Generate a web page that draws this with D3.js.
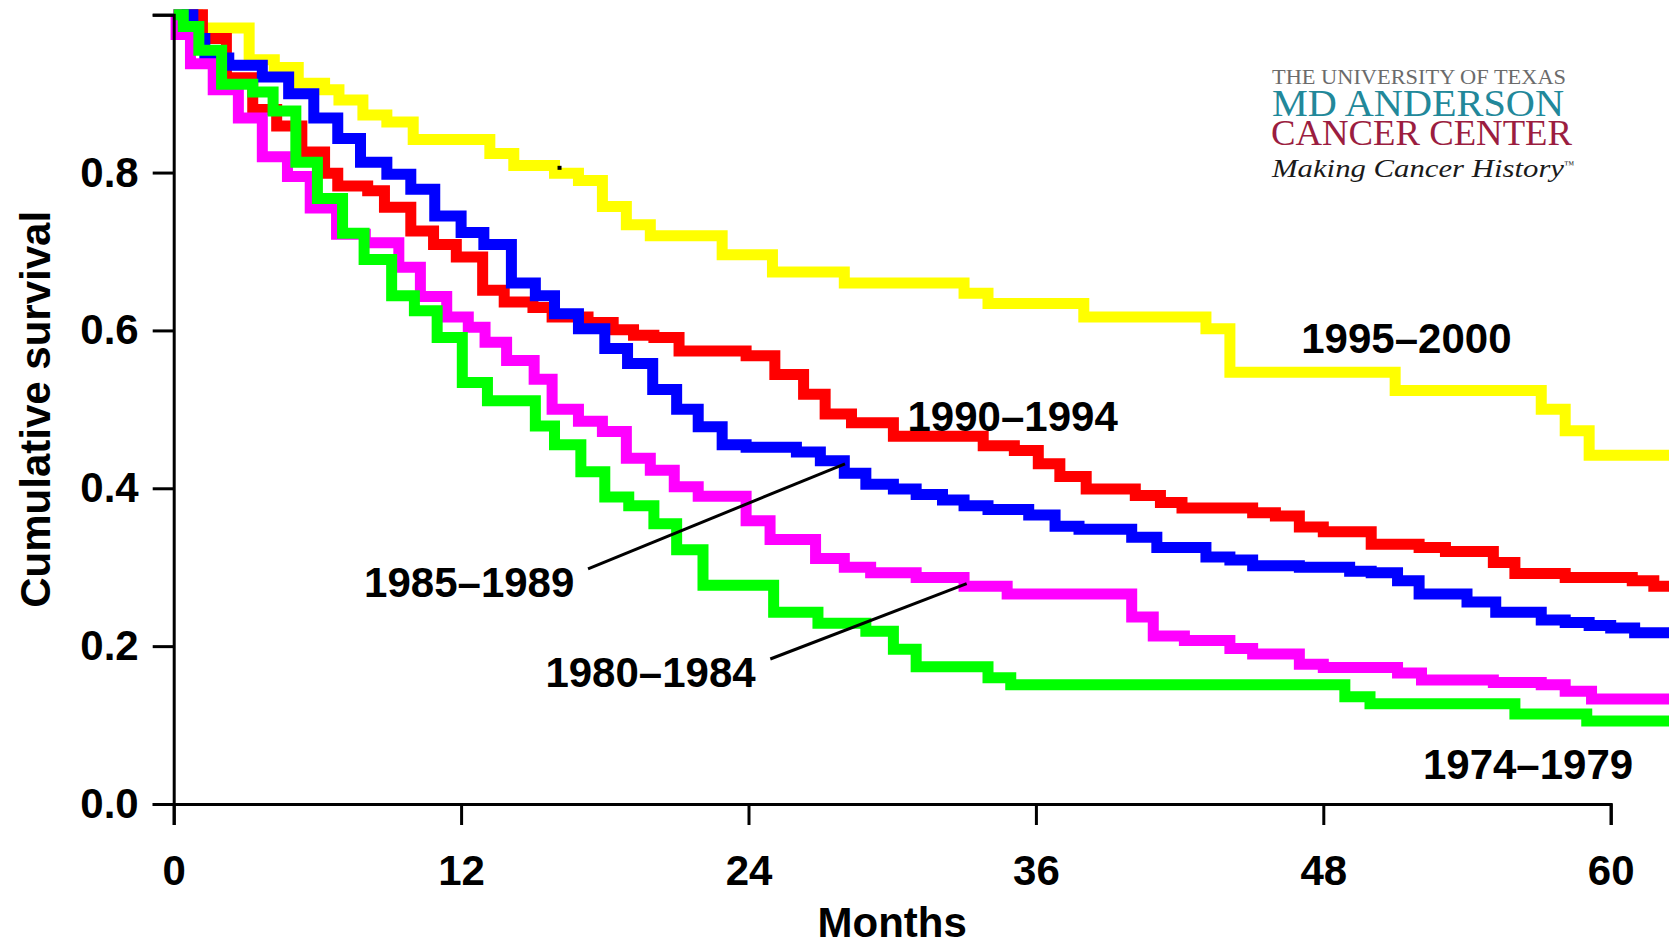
<!DOCTYPE html>
<html>
<head>
<meta charset="utf-8">
<script src="https://cdn.jsdelivr.net/npm/d3@7"></script>
<style>
  html, body { margin: 0; padding: 0; background: #ffffff; overflow: hidden; }
  svg { display: block; }
</style>
</head>
<body>
<svg id="chart" width="1669" height="946"></svg>
<script>
// Axis ticks
const tickMonths = [0, 12, 24, 36, 48, 60];
const tickSurvival = [0, 0.2, 0.4, 0.6, 0.8, 1.0];
const survivalTickLabels = ["0.0", "0.2", "0.4", "0.6", "0.8", ""];

// Kaplan–Meier steps: month at which each level starts, and the level
const months1995 = [0, 1.0, 3.15, 4.2, 5.2, 6.3, 6.9, 7.9, 8.9, 10.0, 13.2, 14.2, 15.9, 16.9, 17.9, 18.9, 19.9, 22.9, 25.0, 28.0, 33.0, 34.0, 38.0, 43.1, 44.1, 51.0, 57.1, 58.1, 59.1, 62.6];
const surv1995   = [1.0, 0.983, 0.943, 0.933, 0.913, 0.905, 0.892, 0.873, 0.864, 0.842, 0.824, 0.809, 0.799, 0.790, 0.757, 0.734, 0.720, 0.696, 0.674, 0.660, 0.647, 0.634, 0.617, 0.602, 0.547, 0.524, 0.500, 0.473, 0.442, 0.442];

const months1990 = [0, 1.2, 2.2, 3.3, 4.3, 5.35, 6.3, 6.85, 8.1, 8.8, 9.9, 10.85, 11.8, 12.9, 13.8, 15.0, 15.8, 17.3, 18.35, 19.2, 20.05, 21.1, 23.9, 25.1, 26.3, 27.2, 28.3, 30.05, 33.8, 35.1, 36.1, 37.0, 38.1, 40.15, 41.2, 42.1, 45.05, 46.0, 47.0, 48.0, 50.0, 52.0, 53.1, 55.1, 56.0, 58.1, 60.9, 61.8, 62.6];
const surv1990   = [1.0, 0.970, 0.920, 0.880, 0.859, 0.826, 0.799, 0.783, 0.777, 0.756, 0.726, 0.709, 0.693, 0.651, 0.636, 0.629, 0.617, 0.610, 0.601, 0.594, 0.591, 0.574, 0.568, 0.544, 0.519, 0.494, 0.483, 0.466, 0.454, 0.448, 0.431, 0.415, 0.399, 0.391, 0.382, 0.375, 0.369, 0.365, 0.351, 0.345, 0.329, 0.325, 0.320, 0.306, 0.292, 0.287, 0.283, 0.276, 0.276];

const months1985 = [0, 0.8, 1.3, 2.3, 3.7, 4.8, 5.85, 6.85, 7.8, 8.9, 9.9, 10.9, 12.0, 12.95, 14.1, 15.1, 15.9, 16.9, 18.0, 18.95, 20.0, 21.0, 21.9, 22.9, 23.9, 26.0, 27.0, 28.0, 28.9, 30.05, 31.0, 32.1, 33.0, 34.0, 35.7, 36.8, 37.8, 40.0, 41.05, 43.1, 44.1, 45.05, 47.0, 49.1, 50.0, 51.1, 52.0, 54.0, 55.2, 57.1, 58.1, 59.1, 60.0, 61.0, 62.6];
const surv1985   = [1.0, 0.970, 0.945, 0.936, 0.921, 0.900, 0.869, 0.843, 0.813, 0.798, 0.779, 0.745, 0.724, 0.709, 0.660, 0.644, 0.621, 0.602, 0.577, 0.558, 0.525, 0.500, 0.478, 0.455, 0.452, 0.446, 0.435, 0.419, 0.405, 0.399, 0.392, 0.385, 0.378, 0.373, 0.366, 0.352, 0.348, 0.338, 0.325, 0.313, 0.309, 0.302, 0.300, 0.295, 0.293, 0.283, 0.266, 0.256, 0.243, 0.233, 0.230, 0.226, 0.223, 0.217, 0.217];

const months1980 = [0, 0.1, 0.7, 1.65, 2.7, 3.7, 4.75, 5.7, 6.8, 8.0, 9.4, 10.3, 11.4, 12.3, 13.0, 13.9, 15.05, 15.8, 16.9, 17.9, 18.9, 19.9, 20.9, 21.9, 23.9, 24.9, 26.8, 28.0, 29.1, 31.0, 33.0, 34.8, 40.0, 40.9, 42.2, 44.1, 45.05, 47.0, 48.0, 51.1, 52.1, 55.1, 57.1, 58.1, 59.2, 62.6];
const surv1980   = [1.0, 0.975, 0.938, 0.905, 0.869, 0.820, 0.795, 0.755, 0.722, 0.711, 0.680, 0.643, 0.617, 0.604, 0.585, 0.562, 0.538, 0.500, 0.485, 0.472, 0.438, 0.423, 0.402, 0.390, 0.359, 0.335, 0.311, 0.300, 0.293, 0.287, 0.276, 0.266, 0.237, 0.213, 0.207, 0.197, 0.190, 0.177, 0.173, 0.166, 0.157, 0.154, 0.151, 0.143, 0.133, 0.133];

const months1974 = [0, 0.4, 1.05, 2.0, 3.3, 4.15, 5.1, 6.0, 7.05, 7.95, 9.1, 10.05, 11.0, 12.05, 13.1, 15.1, 15.9, 17.0, 18.0, 19.0, 20.05, 21.0, 22.1, 25.05, 26.9, 28.9, 30.05, 31.0, 34.0, 34.95, 48.9, 49.95, 56.0, 59.0, 62.6];
const surv1974   = [1.0, 0.985, 0.955, 0.912, 0.902, 0.878, 0.813, 0.767, 0.723, 0.690, 0.644, 0.625, 0.591, 0.534, 0.511, 0.479, 0.455, 0.421, 0.389, 0.378, 0.355, 0.322, 0.277, 0.243, 0.229, 0.219, 0.196, 0.174, 0.160, 0.151, 0.136, 0.127, 0.114, 0.105, 0.105];

// Period names, drawing order (back to front), colours
const periods = ["1995–2000", "1990–1994", "1985–1989", "1980–1984", "1974–1979"];
const periodColors = ["#ffff00", "#ff0000", "#0000ff", "#ff00ff", "#00ff00"];
const periodMonths = [months1995, months1990, months1985, months1980, months1974];
const periodSurv = [surv1995, surv1990, surv1985, surv1980, surv1974];

// Curve labels: [text, month, survival at baseline-left]
const labelText = ["1995–2000", "1990–1994", "1985–1989", "1980–1984", "1974–1979"];
const labelMonth = [47.08, 30.64, 7.95, 15.52, 52.16];
const labelSurv = [0.5714, 0.4726, 0.2623, 0.1482, 0.0317];

// Leader lines from a label to its curve: [m1, s1, m2, s2]
const leaderLines = [
  [17.3, 0.298, 28.03, 0.431],
  [24.91, 0.1837, 33.11, 0.2792]
];

// Censored observation mark
const censorMonth = [16.11];
const censorSurv = [0.806];

// ---- layout ----
const W = 1669, H = 946;
const plotLeft = 173.7, plotRight = 1610.7, plotTop = 14.7, plotBottom = 804;
const FONT = "'Liberation Sans', Arial, Helvetica, sans-serif";

const svg = d3.select("#chart");

const x = d3.scaleLinear().domain([0, 60]).range([plotLeft, plotRight]);
const y = d3.scaleLinear().domain([0, 1]).range([plotBottom, plotTop]);

// survival curves
const stepLine = d3.line()
  .x(d => x(d[0]))
  .y(d => y(d[1]))
  .curve(d3.curveStepAfter);

const curves = svg.append("g").attr("class", "curves");
periods.forEach((name, i) => {
  const pts = periodMonths[i].map((m, k) => [m, periodSurv[i][k]]);
  curves.append("path")
    .datum(pts)
    .attr("d", stepLine)
    .attr("fill", "none")
    .attr("stroke", periodColors[i])
    .attr("stroke-width", 11)
    .attr("stroke-linejoin", "miter")
    .attr("stroke-linecap", "butt");
});

// censor tick
svg.append("g").selectAll("rect")
  .data(censorMonth.map((m, i) => [m, censorSurv[i]]))
  .join("rect")
  .attr("x", d => x(d[0]) - 2)
  .attr("y", d => y(d[1]) - 2)
  .attr("width", 4)
  .attr("height", 4)
  .attr("fill", "#000");

// axes
const yAxis = d3.axisLeft(y)
  .tickValues(tickSurvival)
  .tickFormat((d, i) => survivalTickLabels[i])
  .tickSize(21)
  .tickSizeOuter(21)
  .tickPadding(14);

const xAxis = d3.axisBottom(x)
  .tickValues(tickMonths)
  .tickFormat(d => String(d))
  .tickSize(21)
  .tickSizeOuter(21)
  .tickPadding(30);

const gy = svg.append("g").attr("transform", `translate(${plotLeft},0)`).call(yAxis);
const gx = svg.append("g").attr("transform", `translate(0,${plotBottom})`).call(xAxis);

[gx, gy].forEach(g => {
  g.select(".domain").attr("stroke", "#000").attr("stroke-width", 3).attr("fill", "none");
  g.selectAll(".tick line").attr("stroke", "#000").attr("stroke-width", 3);
  g.selectAll(".tick text")
    .attr("fill", "#000")
    .style("font-family", FONT)
    .style("font-weight", "bold")
    .style("font-size", "42px");
});

// axis titles
svg.append("text")
  .attr("x", (plotLeft + plotRight) / 2)
  .attr("y", 937)
  .attr("text-anchor", "middle")
  .style("font-family", FONT)
  .style("font-weight", "bold")
  .style("font-size", "42px")
  .text("Months");

svg.append("text")
  .attr("transform", `translate(50,${(plotTop + plotBottom) / 2}) rotate(-90)`)
  .attr("text-anchor", "middle")
  .style("font-family", FONT)
  .style("font-weight", "bold")
  .style("font-size", "42px")
  .text("Cumulative survival");

// leader lines
svg.append("g").selectAll("line")
  .data(leaderLines)
  .join("line")
  .attr("x1", d => x(d[0]))
  .attr("y1", d => y(d[1]))
  .attr("x2", d => x(d[2]))
  .attr("y2", d => y(d[3]))
  .attr("stroke", "#000")
  .attr("stroke-width", 3);

// curve labels
svg.append("g").selectAll("text")
  .data(labelText.map((t, i) => [t, labelMonth[i], labelSurv[i]]))
  .join("text")
  .attr("x", d => x(d[1]))
  .attr("y", d => y(d[2]))
  .style("font-family", FONT)
  .style("font-weight", "bold")
  .style("font-size", "42px")
  .attr("fill", "#000")
  .text(d => d[0]);

// institution logo
const logo = svg.append("g").attr("class", "logo");
const SERIF = "'Liberation Serif', 'Times New Roman', 'DejaVu Serif', serif";
logo.append("text")
  .attr("x", 1272).attr("y", 83.5)
  .attr("textLength", 294).attr("lengthAdjust", "spacingAndGlyphs")
  .style("font-family", SERIF).style("font-size", "22px")
  .attr("fill", "#6b6b6b")
  .text("THE UNIVERSITY OF TEXAS");
logo.append("text")
  .attr("x", 1272).attr("y", 115.5)
  .attr("textLength", 292).attr("lengthAdjust", "spacingAndGlyphs")
  .style("font-family", SERIF).style("font-size", "38px")
  .attr("fill", "#22889a")
  .text("MD ANDERSON");
logo.append("text")
  .attr("x", 1271).attr("y", 144.5)
  .attr("textLength", 301).attr("lengthAdjust", "spacingAndGlyphs")
  .style("font-family", SERIF).style("font-size", "36px")
  .attr("fill", "#9b1d40")
  .text("CANCER CENTER");
const tagline = logo.append("text")
  .attr("x", 1272).attr("y", 176.5)
  .style("font-family", SERIF).style("font-size", "25px")
  .style("font-style", "italic")
  .attr("fill", "#1a1a1a");
tagline.append("tspan")
  .attr("textLength", 292).attr("lengthAdjust", "spacingAndGlyphs")
  .text("Making Cancer History");
tagline.append("tspan")
  .attr("dy", -9).style("font-size", "10px").style("font-style", "normal")
  .text("™");
</script>
</body>
</html>
